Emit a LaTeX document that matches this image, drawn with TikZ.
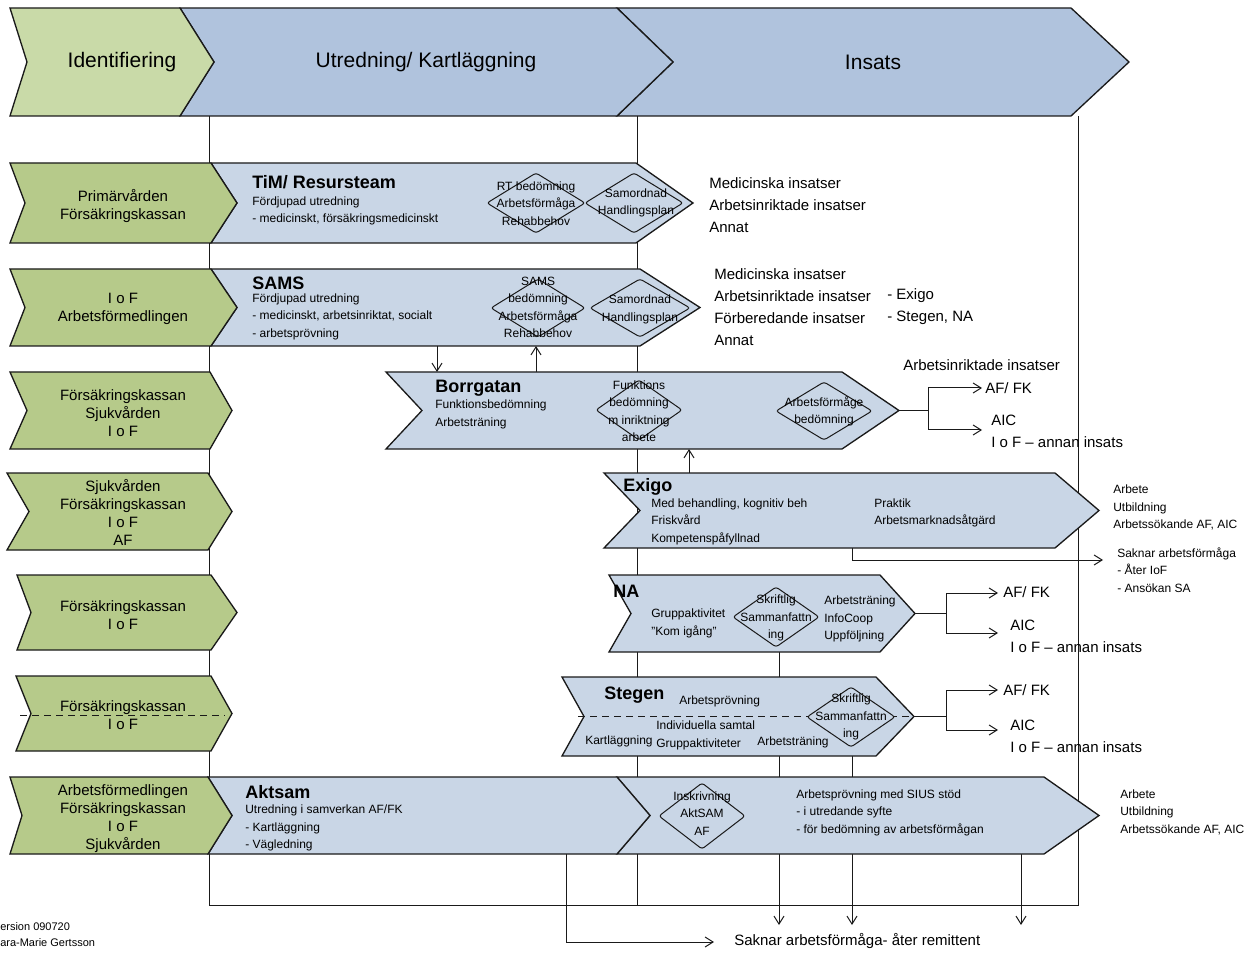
\documentclass[tikz,border=0pt]{standalone}
\usepackage{fontspec}
\setmainfont{Liberation Sans}
\usetikzlibrary{arrows.meta}
\definecolor{hgreen}{HTML}{C9DAA8}
\definecolor{rgreen}{HTML}{B6CA8A}
\definecolor{hblue}{HTML}{B0C3DD}
\definecolor{rblue}{HTML}{C9D6E6}
\definecolor{ink}{HTML}{1A1A1A}
\newcommand\chev[8]{%
  \draw[#1] (#2,#6) -- (#4,#6) -- (#5,{(#6+#7)/2}) -- (#4,#7) -- (#2,#7) -- (#3,{(#6+#7)/2}) -- cycle;
  \coordinate (#8) at ({(#2+#4)/2},{(#6+#7)/2});
}
\newcommand\dmd[5]{%
  \draw[dmdbox] ({#2-#4},#3) -- (#2,{#3-#5}) -- ({#2+#4},#3) -- (#2,{#3+#5}) -- cycle;
  \coordinate (#1) at (#2,#3);
}
\begin{document}
\begin{tikzpicture}[x=0.75pt,y=-0.75pt,
  hdrG/.style={draw=ink, fill=hgreen, line width=1pt},
  hdrB/.style={draw=ink, fill=hblue, line width=1pt},
  rowG/.style={draw=ink, fill=rgreen, line width=1pt},
  rowB/.style={draw=ink, fill=rblue, line width=1pt},
  dmdbox/.style={draw=ink, fill=rblue, line width=0.75pt, rounded corners=2pt},
  frame/.style={draw=ink, line width=0.7pt},
  conn/.style={draw=ink, line width=0.75pt},
  arr/.style={conn, -{Straight Barb[length=6pt,width=7.5pt]}},
  hdr/.style={font=\fontsize{15.75}{18}\selectfont, inner sep=0},
  ttl/.style={font=\fontsize{13.5}{16}\selectfont\bfseries, inner sep=0, anchor=west},
  sm/.style={font=\fontsize{9}{13.1}\selectfont, inner sep=0, align=left, anchor=west},
  md/.style={font=\fontsize{11.25}{16.5}\selectfont, inner sep=0, align=left, anchor=west},
  grn/.style={font=\fontsize{11.25}{13.5}\selectfont, inner sep=0, align=center},
  dm/.style={font=\fontsize{9}{13.1}\selectfont, inner sep=0, align=center},
  foot/.style={font=\fontsize{8.25}{12}\selectfont, inner sep=0, align=left, anchor=west},
  dsh/.style={draw=ink, line width=0.75pt, dash pattern=on 5pt off 4pt}
]
\useasboundingbox (0,0) rectangle (1260,955);

% ---------- frame lines ----------
\coordinate (fTL) at (209,116); \coordinate (fBL) at (209,905);
\coordinate (fBR) at (1078,905); \coordinate (fTR) at (1078,116);
\coordinate (fTM) at (637,116); \coordinate (fBM) at (637,905);
\draw[frame] (fTL) -- (fBL) -- (fBR) -- (fTR);
\draw[frame] (fTM) -- (fBM);

% ---------- connectors ----------
\coordinate (samsB) at (437,346); \coordinate (borT) at (437,372);
\draw[arr] (samsB) -- (borT);
\coordinate (borT2) at (536,372); \coordinate (samsB2) at (536,346);
\draw[arr] (borT2) -- (samsB2);
\coordinate (exT) at (689,473); \coordinate (borB) at (689,449);
\draw[arr] (exT) -- (borB);

\coordinate (borTip) at (899,411); \coordinate (borJ) at (928,411);
\coordinate (borJa) at (928,388); \coordinate (borJb) at (928,430);
\coordinate (borA1) at (982,388); \coordinate (borA2) at (982,430);
\draw[conn] (borTip) -- (borJ);
\draw[arr] (borJ) -- (borJa) -- (borA1);
\draw[arr] (borJ) -- (borJb) -- (borA2);

\coordinate (exB) at (852,548); \coordinate (exS) at (1103,560);
\draw[arr] (exB) |- (exS);

\coordinate (naTip) at (915,613); \coordinate (naJ) at (946,613);
\coordinate (naJa) at (946,593); \coordinate (naJb) at (946,633);
\coordinate (naA1) at (998,593); \coordinate (naA2) at (998,633);
\draw[conn] (naTip) -- (naJ);
\draw[arr] (naJ) -- (naJa) -- (naA1);
\draw[arr] (naJ) -- (naJb) -- (naA2);

\coordinate (stTip) at (914,716); \coordinate (stJ) at (946,716);
\coordinate (stJa) at (946,690); \coordinate (stJb) at (946,730);
\coordinate (stA1) at (998,690); \coordinate (stA2) at (998,730);
\draw[conn] (stTip) -- (stJ);
\draw[arr] (stJ) -- (stJa) -- (stA1);
\draw[arr] (stJ) -- (stJb) -- (stA2);

\coordinate (naB) at (779,652); \coordinate (d1) at (779,925);
\draw[arr] (naB) -- (d1);
\coordinate (stB) at (852,756); \coordinate (d2) at (852,925);
\draw[arr] (stB) -- (d2);
\coordinate (akB) at (1021,854); \coordinate (d3) at (1021,925);
\draw[arr] (akB) -- (d3);
\coordinate (akB2) at (566,854); \coordinate (akS) at (714,942);
\draw[arr] (akB2) |- (akS);

% ---------- header ----------
\chev{hdrB}{617}{673}{1071}{1129}{8}{116}{hIns}
\chev{hdrB}{180}{214}{617}{673}{8}{116}{hUtr}
\chev{hdrG}{10}{27}{180}{214}{8}{116}{hIde}

% ---------- rows: blue boxes ----------
\chev{rowB}{211}{237}{636}{693}{163}{243}{tim}
\chev{rowB}{211}{237}{640}{700}{269}{346}{sams}
\chev{rowB}{386}{422}{842}{899}{372}{449}{borr}
\chev{rowB}{604}{640}{1055}{1099}{473}{548}{exigo}
\chev{rowB}{609}{631}{880}{915}{575}{652}{na}
\chev{rowB}{562}{584}{876}{914}{677}{756}{stegen}
\chev{rowB}{617}{650}{1044}{1099}{777}{854}{akt2}
\chev{rowB}{208}{232}{617}{650}{777}{854}{akt1}

% ---------- rows: green chevrons ----------
\chev{rowG}{10}{25}{211}{237}{163}{243}{g1}
\chev{rowG}{10}{25}{211}{237}{269}{346}{g2}
\chev{rowG}{10}{27}{210}{232}{372}{449}{g3}
\chev{rowG}{7}{29}{208}{232}{473}{550}{g4}
\chev{rowG}{17}{31}{211}{237}{575}{650}{g5}
\chev{rowG}{16}{31}{211}{232}{676}{751}{g6}
\chev{rowG}{10}{22}{208}{232}{777}{854}{g7}

% ---------- dashed lines ----------
\coordinate (gdA) at (20,715); \coordinate (gdB) at (225,715);
\draw[dsh] (gdA) -- (gdB);
\coordinate (sdA) at (578,716); \coordinate (sdB) at (912,716);
\draw[dsh] (sdA) -- (sdB);

% ---------- diamonds ----------
\dmd{dRT}{536}{203}{49}{30}
\dmd{dSam1}{634}{203}{49}{30}
\dmd{dSAMS}{538}{308}{47}{29}
\dmd{dSam2}{640}{308}{50}{29}
\dmd{dFunk}{639}{410}{43}{30}
\dmd{dAfb}{824}{411}{48}{29}
\dmd{dSkr1}{776}{617}{43}{30}
\dmd{dSkr2}{851}{717}{44}{30}
\dmd{dInsk}{702}{816}{43}{33}

% ---------- header text ----------
\node[hdr] (hI) at (122,62) {Identifiering};
\node[hdr] (hU) at (426,62) {Utredning/ Kartläggning};
\node[hdr] (hN) at (873,62) {Insats};

% ---------- green texts ----------
\node[grn] (g1t) at (123,206.5) {Primärvården\\Försäkringskassan};
\node[grn] (g2t) at (123,309) {I o F\\Arbetsförmedlingen};
\node[grn] (g3t) at (123,413.5) {Försäkringskassan\\Sjukvården\\I o F};
\node[grn] (g4t) at (123,512.5) {Sjukvården\\Försäkringskassan\\I o F\\AF};
\node[grn] (g5t) at (123,615) {Försäkringskassan\\I o F};
\node[grn] (g6t) at (123,715) {Försäkringskassan\\I o F};
\node[grn] (g7t) at (123,818.5) {Arbetsförmedlingen\\Försäkringskassan\\I o F\\Sjukvården};

% ---------- TiM ----------
\node[ttl] (timT) at (252,182) {TiM/ Resursteam};
\node[sm] (timD) at (252,211) {Fördjupad utredning\\- medicinskt, försäkringsmedicinskt};
\node[dm] (rtT) at (536,203.5) {RT bedömning\\Arbetsförmåga\\Rehabbehov};
\node[dm] (sam1T) at (636,203) {Samordnad\\Handlingsplan};
\node[md] (timR) at (709,205) {Medicinska insatser\\Arbetsinriktade insatser\\Annat};

% ---------- SAMS ----------
\node[ttl] (samsT) at (252,283) {SAMS};
\node[sm] (samsD) at (252,316.5) {Fördjupad utredning\\- medicinskt, arbetsinriktat, socialt\\- arbetsprövning};
\node[dm] (samsDT) at (538,307.5) {SAMS\\bedömning\\Arbetsförmåga\\Rehabbehov};
\node[dm] (sam2T) at (640,309.5) {Samordnad\\Handlingsplan};
\node[md] (samsR) at (714,307.5) {Medicinska insatser\\Arbetsinriktade insatser\\Förberedande insatser\\Annat};
\node[md] (samsR2) at (887,307) {- Exigo\\- Stegen, NA};

% ---------- Borrgatan ----------
\node[ttl] (borrT) at (435,388) {Borrgatan};
\node[sm] (borrD) at (435,414.5) {Funktionsbedömning\\Arbetsträning};
\node[dm] (funkT) at (639,411) {Funktions\\bedömning\\m inriktning\\arbete};
\node[dm] (afbT) at (824,411.5) {Arbetsförmåge\\bedömning};
\node[md] (borrR0) at (903,365) {Arbetsinriktade insatser};
\node[md] (borrR1) at (985,388) {AF/ FK};
\node[md] (borrR2) at (991,431.5) {AIC\\I o F – annan insats};

% ---------- Exigo ----------
\node[ttl] (exT1) at (623,487) {Exigo};
\node[sm] (exD1) at (651,521.5) {Med behandling, kognitiv beh\\Friskvård\\Kompetenspåfyllnad};
\node[sm] (exD2) at (874,513) {Praktik\\Arbetsmarknadsåtgärd};
\node[sm] (exR1) at (1113,507.5) {Arbete\\Utbildning\\Arbetssökande AF, AIC};
\node[sm] (exR2) at (1117,570) {Saknar arbetsförmåga\\- Åter IoF\\- Ansökan SA};

% ---------- NA ----------
\node[ttl] (naT) at (613,591) {NA};
\node[sm] (naD1) at (651,623.5) {Gruppaktivitet\\”Kom igång”};
\node[dm] (skr1T) at (776,618) {Skriftlig\\Sammanfattn\\ing};
\node[sm] (naD2) at (824,619) {Arbetsträning\\InfoCoop\\Uppföljning};
\node[md] (naR1) at (1003,592) {AF/ FK};
\node[md] (naR2) at (1010,636) {AIC\\I o F – annan insats};

% ---------- Stegen ----------
\node[ttl] (stT) at (604,695) {Stegen};
\node[sm] (stD0) at (679,701) {Arbetsprövning};
\node[dm] (skr2T) at (851,717) {Skriftlig\\Sammanfattn\\ing};
\node[sm] (stD1) at (656,735.5) {Individuella samtal\\Gruppaktiviteter};
\node[sm] (stD2) at (585,741) {Kartläggning};
\node[sm] (stD3) at (757,742) {Arbetsträning};
\node[md] (stR1) at (1003,690) {AF/ FK};
\node[md] (stR2) at (1010,736) {AIC\\I o F – annan insats};

% ---------- Aktsam ----------
\node[ttl] (akT) at (245,792) {Aktsam};
\node[sm] (akD1) at (245,828) {Utredning i samverkan AF/FK\\- Kartläggning\\- Vägledning};
\node[dm] (inskT) at (702,813.5) {Inskrivning\\AktSAM\\AF};
\node[sm] (akD2) at (796,812.5) {Arbetsprövning med SIUS stöd\\- i utredande syfte\\- för bedömning av arbetsförmågan};
\node[sm] (akR) at (1120,812) {Arbete\\Utbildning\\Arbetssökande AF, AIC};

% ---------- bottom ----------
\node[md] (sakn) at (734,941) {Saknar arbetsförmåga- åter remittent};
\node[foot] (ver) at (0,935) {ersion 090720\\ara-Marie Gertsson};
\end{tikzpicture}
\end{document}
